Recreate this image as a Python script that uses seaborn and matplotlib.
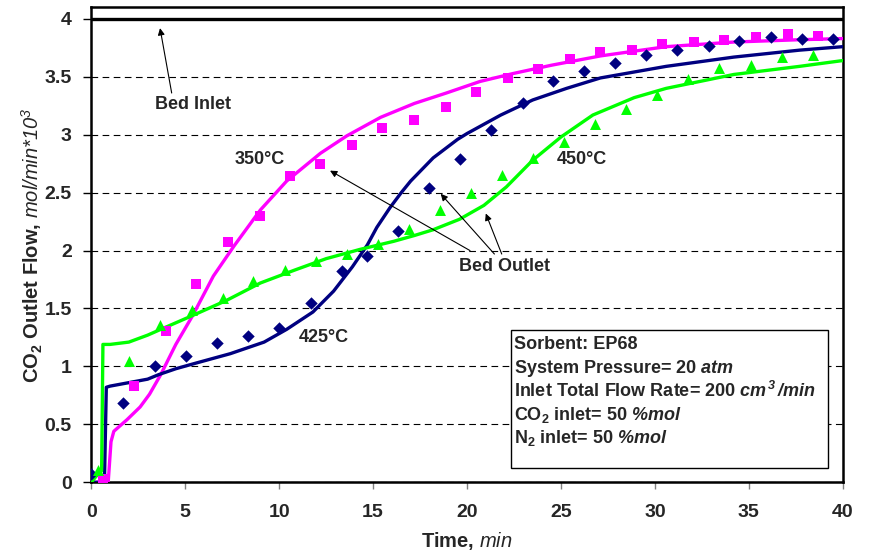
import matplotlib
matplotlib.use("Agg")
import matplotlib.pyplot as plt
import seaborn as sns
from matplotlib.patches import Rectangle

# ---------------- data ----------------
# experimental points
t350 = [0.6, 2.3, 4.0, 5.6, 7.3, 9.0, 10.6, 12.2, 13.9, 15.5, 17.2, 18.9, 20.5, 22.2,
        23.8, 25.5, 27.1, 28.8, 30.4, 32.1, 33.7, 35.4, 37.1, 38.7]
f350 = [0.03, 0.83, 1.31, 1.71, 2.07, 2.30, 2.64, 2.75, 2.91, 3.06, 3.13, 3.24, 3.37, 3.49,
        3.57, 3.65, 3.71, 3.73, 3.78, 3.80, 3.82, 3.84, 3.87, 3.85]

t425 = [0.0, 1.67, 3.37, 5.03, 6.68, 8.36, 10.0, 11.68, 13.33, 14.7, 16.35, 18.0, 19.63,
        21.3, 22.97, 24.6, 26.25, 27.9, 29.54, 31.2, 32.87, 34.5, 36.18, 37.83, 39.48]
f425 = [0.07, 0.68, 1.00, 1.09, 1.20, 1.26, 1.33, 1.55, 1.82, 1.95, 2.17, 2.54, 2.79,
        3.04, 3.27, 3.46, 3.55, 3.62, 3.69, 3.73, 3.77, 3.81, 3.84, 3.83, 3.83]

t450 = [0.37, 2.02, 3.66, 5.35, 7.0, 8.63, 10.31, 11.97, 13.6, 15.28, 16.93, 18.57, 20.2,
        21.85, 23.5, 25.17, 26.82, 28.47, 30.14, 31.79, 33.44, 35.1, 36.76, 38.4]
f450 = [0.11, 1.05, 1.36, 1.49, 1.59, 1.74, 1.83, 1.91, 1.97, 2.06, 2.19, 2.35, 2.50,
        2.65, 2.80, 2.94, 3.09, 3.22, 3.34, 3.48, 3.58, 3.60, 3.67, 3.69]

# model curves
m350_t = [0, 0.9, 1.05, 1.2, 1.9, 2.6, 3.1, 3.7, 4.5, 5.4, 6.5, 7.6, 9.0, 10.4, 12.2,
          13.6, 15.4, 17.2, 18.9, 20.7, 22.5, 24.5, 27.1, 30.6, 34.2, 37.7, 40]
m350_f = [0, 0, 0.35, 0.44, 0.54, 0.65, 0.76, 0.93, 1.19, 1.44, 1.78, 2.04, 2.35, 2.60, 2.84,
          2.99, 3.15, 3.27, 3.36, 3.46, 3.53, 3.60, 3.68, 3.76, 3.80, 3.82, 3.83]

m425_t = [0, 0.7, 0.8, 1.0, 2.0, 3.0, 3.6, 4.5, 5.6, 7.4, 9.2, 10.4, 11.8, 12.9, 13.9,
          14.7, 15.2, 15.9, 16.5, 17.0, 18.2, 19.5, 20.0, 21.8, 23.5, 25.3, 27.1, 30.6,
          34.2, 37.7, 40]
m425_f = [0, 0, 0.82, 0.83, 0.86, 0.89, 0.93, 0.98, 1.03, 1.11, 1.21, 1.32, 1.47, 1.65, 1.86,
          2.05, 2.20, 2.37, 2.50, 2.60, 2.80, 2.96, 3.01, 3.17, 3.30, 3.40, 3.49, 3.59,
          3.67, 3.73, 3.76]

m450_t = [0, 0.25, 0.55, 0.62, 1.0, 2.0, 3.0, 3.7, 5.4, 7.2, 9.0, 10.8, 12.5, 14.3, 16.1,
          17.2, 18.2, 19.6, 20.9, 22.1, 23.5, 25.0, 26.7, 28.9, 30.6, 34.2, 37.7, 40]
m450_f = [0, 0.05, 0.1, 1.19, 1.19, 1.21, 1.27, 1.32, 1.44, 1.57, 1.72, 1.83, 1.93, 2.01, 2.08,
          2.13, 2.18, 2.27, 2.39, 2.55, 2.78, 2.98, 3.17, 3.32, 3.40, 3.52, 3.59, 3.64]

inlet_t = [0, 40]
inlet_f = [4, 4]

x_ticks = [0, 5, 10, 15, 20, 25, 30, 35, 40]
y_ticks = [0, 0.5, 1, 1.5, 2, 2.5, 3, 3.5, 4]
y_ticklabels = ["0", "0.5", "1", "1.5", "2", "2.5", "3", "3.5", "4"]

info_lines = [
    "Sorbent: EP68",
    "System Pressure= 20 $\\mathbfit{atm}$",
    "Inlet Total Flow Rate= 200 $\\mathbfit{cm^{\\,3}\\,/min}$",
    "CO$_2$ inlet= 50 $\\mathbfit{\\%mol}$",
    "N$_2$ inlet= 50 $\\mathbfit{\\%mol}$",
]

# ---------------- style ----------------
sns.set_theme(style="white")
plt.rcParams["font.family"] = ["Liberation Sans", "DejaVu Sans"]
plt.rcParams["mathtext.fontset"] = "custom"
plt.rcParams["mathtext.rm"] = "Liberation Sans:italic"
plt.rcParams["mathtext.bf"] = "Liberation Sans:bold"
plt.rcParams["mathtext.it"] = "Liberation Sans:italic"
plt.rcParams["mathtext.sf"] = "Liberation Sans:bold"
if "mathtext.bfit" in plt.rcParams:
    plt.rcParams["mathtext.bfit"] = "Liberation Sans:italic:bold"
else:
    info_lines = [s.replace("\\mathbfit", "\\mathit") for s in info_lines]
plt.rcParams["mathtext.default"] = "regular"

MAG = "#FF00FF"
NAVY = "#000080"
LIME = "#00FF00"

fig = plt.figure(figsize=(8.71, 5.56), dpi=100)
ax = fig.add_axes([0.1048, 0.1326, 0.8627, 0.8543])
ax.set_facecolor("white")

# gridlines
ax.yaxis.grid(True, color="black", linestyle=(0, (6, 4)), linewidth=0.8, zorder=0)
ax.xaxis.grid(False)
ax.set_axisbelow(True)

# model lines
sns.lineplot(x=m350_t, y=m350_f, ax=ax, color=MAG, linewidth=2.4, sort=False,
             estimator=None, zorder=3)
sns.lineplot(x=m425_t, y=m425_f, ax=ax, color=NAVY, linewidth=2.4, sort=False,
             estimator=None, zorder=3)
sns.lineplot(x=m450_t, y=m450_f, ax=ax, color=LIME, linewidth=2.4, sort=False,
             estimator=None, zorder=3)
sns.lineplot(x=inlet_t, y=inlet_f, ax=ax, color="black", linewidth=2.4, sort=False,
             estimator=None, zorder=3)

# experimental markers
sns.scatterplot(x=t350, y=f350, ax=ax, marker="s", s=62, color=MAG, linewidth=0, zorder=4)
sns.scatterplot(x=t425, y=f425, ax=ax, marker="D", s=40, color=NAVY, linewidth=0, zorder=4)
sns.scatterplot(x=t450, y=f450, ax=ax, marker="^", s=62, color=LIME, linewidth=0, zorder=4)

ax.set_xlim(0, 40)
ax.set_ylim(0, 4.1)
ax.set_xticks(x_ticks)
ax.set_yticks(y_ticks)
ax.set_yticklabels(y_ticklabels)
ax.tick_params(axis="y", direction="out", length=6, width=1, color="black", pad=8,
               labelsize=14, left=True)
ax.tick_params(axis="x", direction="out", length=5, width=1, color="gray", pad=11,
               labelsize=14, bottom=True)
for lab in ax.get_xticklabels() + ax.get_yticklabels():
    lab.set_fontweight("bold")

for sp in ax.spines.values():
    sp.set_color("black")
    sp.set_linewidth(1.8)
    sp.set_visible(True)

ax.set_xlabel("Time, $\\mathrm{min}$", fontsize=14.5, fontweight="bold")
ax.xaxis.set_label_coords(0.5, -0.1)
ax.set_ylabel("CO$_2$ Outlet Flow, $\\mathrm{mol/min{*}10^3}$", fontsize=14.5,
              fontweight="bold")
ax.yaxis.set_label_coords(-0.062, 0.5)

# annotations
arrow = dict(arrowstyle="-|>", color="black", lw=0.8, mutation_scale=10,
             shrinkA=0, shrinkB=0)
ax.text(5.43, 3.26, "Bed Inlet", ha="center", va="center", fontsize=13, fontweight="bold")
ax.annotate("", xy=(3.66, 3.92), xytext=(4.28, 3.36), arrowprops=arrow)

ax.text(8.97, 2.79, "350°C", ha="center", va="center", fontsize=13, fontweight="bold")
ax.text(12.39, 1.25, "425°C", ha="center", va="center", fontsize=13, fontweight="bold")
ax.text(26.13, 2.79, "450°C", ha="center", va="center", fontsize=13, fontweight="bold")

ax.text(21.98, 1.86, "Bed Outlet", ha="center", va="center", fontsize=13, fontweight="bold")
ax.annotate("", xy=(12.71, 2.69), xytext=(20.16, 2.0), arrowprops=arrow)
ax.annotate("", xy=(18.6, 2.49), xytext=(21.46, 1.97), arrowprops=arrow)
ax.annotate("", xy=(21.0, 2.32), xytext=(21.85, 1.97), arrowprops=arrow)

# info box
box = Rectangle((0.5586, 0.0295), 0.9808 - 0.5586, 0.3206 - 0.0295,
                transform=ax.transAxes, facecolor="white", edgecolor="black",
                linewidth=1.0, zorder=5)
ax.add_patch(box)
baselines = [0.280, 0.2307, 0.1802, 0.1312, 0.0834]
for txt, yb in zip(info_lines, baselines):
    ax.text(0.5626, yb, txt, transform=ax.transAxes, ha="left", va="baseline",
            fontsize=13, fontweight="bold", zorder=6)

fig.savefig("out.png", dpi=100)
